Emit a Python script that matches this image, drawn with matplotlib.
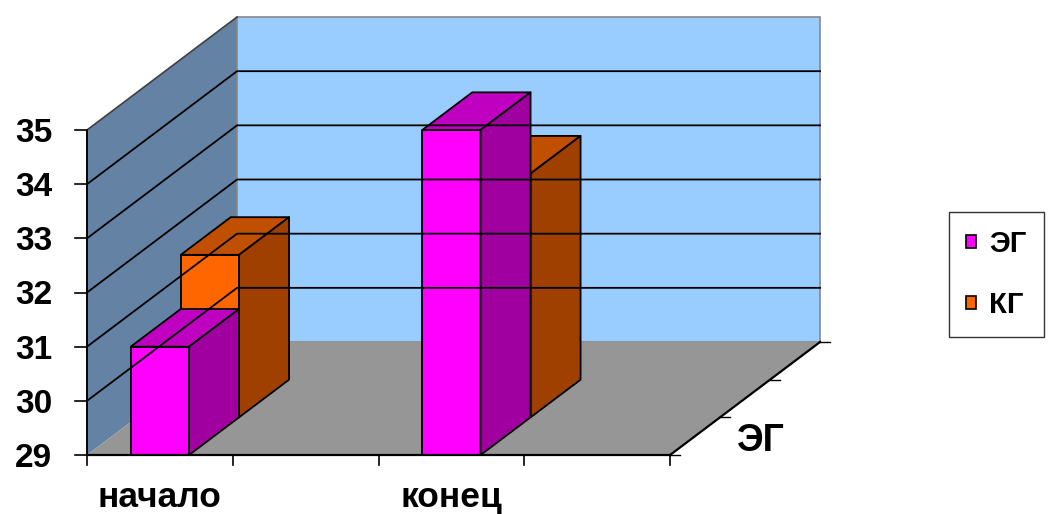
import matplotlib.pyplot as plt
from matplotlib.patches import Polygon, Patch

plt.rcParams['font.family'] = ['Liberation Sans', 'DejaVu Sans']
plt.rcParams['font.weight'] = 'bold'

# Data
periods = ['начало', 'конец']
series = ['ЭГ', 'КГ']
eg_values = [31, 35]
kg_values = [32, 33.5]
y_ticks = [29, 30, 31, 32, 33, 34, 35]

# colours: front, top, side
eg_colors = ['#FF00FF', '#C000C0', '#A000A0']
kg_colors = ['#FF6600', '#C05000', '#A04000']

y0, y1 = 29, 35
ddx, ddy = 0.5146, 2.086      # full depth shear, data units
bar_left, bar_w = 0.15, 0.2
n_cat = len(periods)

fig = plt.figure(figsize=(10.49, 5.14), dpi=100)
ax = fig.add_axes([0, 0, 1, 1])
ax.set_xlim(-0.2985, 3.300)
ax.set_ylim(27.911, 37.4)
ax.axis('off')


def sh(p, d):
    return (p[0] + d * ddx, p[1] + d * ddy)


# walls
side_wall = [(0, y0), (0, y1), sh((0, y1), 1), sh((0, y0), 1)]
ax.add_patch(Polygon(side_wall, closed=True, fc='#6482A4', ec='none'))
ax.plot([0, ddx], [y1, y1 + ddy], color='#404040', lw=1.2)
back_wall = [sh((0, y0), 1), sh((0, y1), 1), sh((n_cat, y1), 1), sh((n_cat, y0), 1)]
ax.add_patch(Polygon(back_wall, closed=True, fc='#99CCFF', ec='#888888', lw=1.2))
for v in y_ticks[1:-1]:
    p0, p1, p2 = (0, v), sh((0, v), 1), sh((n_cat, v), 1)
    ax.plot([p0[0], p1[0], p2[0]], [p0[1], p1[1], p2[1]], color='black', lw=1.3)

# floor
floor = [(0, y0), (n_cat, y0), sh((n_cat, y0), 1), sh((0, y0), 1)]
ax.add_patch(Polygon(floor, closed=True, fc='#969696', ec='none'))

# axes lines and ticks
ax.plot([0, n_cat], [y0, y0], color='black', lw=1.6)
ax.plot([n_cat, n_cat + ddx], [y0, y0 + ddy], color='black', lw=1.6)
ax.plot([0, 0], [y0, y1], color='black', lw=1.4)
for v in y_ticks:
    ax.plot([-0.041, 0], [v, v], color='black', lw=1.2)
    ax.annotate(str(v), (0, v), xytext=(-25, -8.6), textcoords='offset points',
                ha='right', va='baseline', fontsize=24, fontweight='bold')
for k in range(2 * n_cat + 1):
    ax.plot([k / 2, k / 2], [y0, y0 - 0.185], color='black', lw=1.2)
for d in [0, 1 / 3, 2 / 3, 1]:
    p = sh((n_cat, y0), d)
    ax.plot([p[0], p[0] + 0.034], [p[1], p[1]], color='black', lw=1.0)


def draw_bar(x0, value, d0, cols):
    d1 = d0 + 1 / 3
    x1 = x0 + bar_w
    front = [sh((x0, y0), d0), sh((x0, value), d0), sh((x1, value), d0), sh((x1, y0), d0)]
    top = [sh((x0, value), d0), sh((x1, value), d0), sh((x1, value), d1), sh((x0, value), d1)]
    side = [sh((x1, y0), d0), sh((x1, value), d0), sh((x1, value), d1), sh((x1, y0), d1)]
    for poly, c in zip([front, top, side], cols):
        ax.add_patch(Polygon(poly, closed=True, fc=c, ec='black', lw=1.3, joinstyle='round'))


# back row first, then front row
for i, v in enumerate(kg_values):
    draw_bar(i + bar_left, v, 1 / 3, kg_colors)
for i, v in enumerate(eg_values):
    draw_bar(i + bar_left, v, 0, eg_colors)

for i, name in enumerate(periods):
    ax.annotate(name, (i + bar_left + bar_w / 2, y0), xytext=(0, -37.4),
                textcoords='offset points', ha='center', va='baseline',
                fontsize=25.5, fontweight='bold')

# depth axis label
fig.text(737 / 1049, 1 - 451 / 514, series[0], ha='left', va='baseline',
         fontsize=27, fontweight='bold')

handles = [Patch(fc=eg_colors[0], ec='black', lw=1.2, label=series[0]),
           Patch(fc=kg_colors[0], ec='black', lw=1.2, label=series[1])]
leg = fig.legend(handles=handles, loc='center',
                 bbox_to_anchor=(996.5 / 1049, 1 - 274.5 / 514),
                 fontsize=21, frameon=True, fancybox=False, edgecolor='black',
                 handlelength=0.33, handleheight=0.33, handletextpad=0.45,
                 labelspacing=1.15, borderpad=0.6, borderaxespad=0)
leg.get_frame().set_linewidth(1.0)
for t in leg.get_texts():
    t.set_fontweight('bold')

fig.savefig('out.png', dpi=100)
